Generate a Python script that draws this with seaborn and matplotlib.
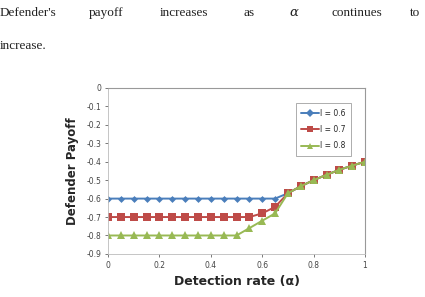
import matplotlib
matplotlib.use("Agg")
import matplotlib.pyplot as plt
import seaborn as sns
import pandas as pd

# Data
alpha = [0.0, 0.05, 0.1, 0.15, 0.2, 0.25, 0.3, 0.35, 0.4, 0.45, 0.5,
         0.55, 0.6, 0.65, 0.7, 0.75, 0.8, 0.85, 0.9, 0.95, 1.0]
l_06 = [-0.6, -0.6, -0.6, -0.6, -0.6, -0.6, -0.6, -0.6, -0.6, -0.6, -0.6,
        -0.6, -0.6, -0.6, -0.571, -0.533, -0.5, -0.471, -0.444, -0.421, -0.4]
l_07 = [-0.7, -0.7, -0.7, -0.7, -0.7, -0.7, -0.7, -0.7, -0.7, -0.7, -0.7,
        -0.7, -0.68, -0.645, -0.571, -0.533, -0.5, -0.471, -0.444, -0.421, -0.4]
l_08 = [-0.8, -0.8, -0.8, -0.8, -0.8, -0.8, -0.8, -0.8, -0.8, -0.8, -0.8,
        -0.76, -0.72, -0.68, -0.571, -0.533, -0.5, -0.471, -0.444, -0.421, -0.4]
series_names = ['l = 0.6', 'l = 0.7', 'l = 0.8']
y_ticks = [0, -0.1, -0.2, -0.3, -0.4, -0.5, -0.6, -0.7, -0.8, -0.9]
x_ticks = [0, 0.2, 0.4, 0.6, 0.8, 1]

df = pd.DataFrame({
    'alpha': alpha * 3,
    'payoff': l_06 + l_07 + l_08,
    'series': [series_names[0]] * len(alpha) + [series_names[1]] * len(alpha)
              + [series_names[2]] * len(alpha),
})

sns.set_style('white')
plt.rcParams['font.family'] = ['DejaVu Sans']

fig = plt.figure(figsize=(4.25, 2.97), dpi=100)
ax = fig.add_axes([0.254, 0.145, 0.605, 0.559])

palette = {series_names[0]: '#4a7ebb', series_names[1]: '#be4b48', series_names[2]: '#98b954'}
markers = {series_names[0]: 'D', series_names[1]: 's', series_names[2]: '^'}
sns.lineplot(data=df, x='alpha', y='payoff', hue='series', style='series',
             palette=palette, markers=markers, dashes=False, linewidth=1.4,
             markersize=4, markeredgewidth=0, ax=ax)
for line, ms in zip(ax.get_lines(), [3.5, 5.5, 5.5]):
    line.set_markersize(ms)

ax.set_xlim(0, 1)
ax.set_ylim(-0.9, 0)
ax.set_xticks(x_ticks)
ax.set_xticklabels([str(t) for t in x_ticks])
ax.set_yticks(y_ticks)
ax.set_yticklabels([str(t) for t in y_ticks])
ax.tick_params(axis='both', labelsize=5.5, colors='#444444', length=2, width=0.5,
               direction='out', left=True, bottom=True, pad=3)
for side in ['top', 'right']:
    ax.spines[side].set_color('#999999')
    ax.spines[side].set_linewidth(0.8)
for side in ['left', 'bottom']:
    ax.spines[side].set_color('#bbbbbb')
    ax.spines[side].set_linewidth(0.6)

ax.set_xlabel('Detection rate (α)', fontsize=9, fontweight='bold', labelpad=4)
ax.set_ylabel('Defender Payoff', fontsize=8.5, fontweight='bold', labelpad=5)

leg = ax.legend(loc='upper right', bbox_to_anchor=(0.96, 0.93), fontsize=5.5,
                frameon=True, fancybox=False, edgecolor='#888888',
                handlelength=2.4, labelspacing=0.95, borderpad=0.7,
                handletextpad=0.1)
leg.get_frame().set_linewidth(0.6)

# paragraph text above the chart
words = [("Defender's", 0.0), ('payoff', 0.21), ('increases', 0.375),
         ('as', 0.572), ('continues', 0.78), ('to', 0.965)]
for w, xpos in words:
    fig.text(xpos, 0.945, w, fontsize=9.5, family='Liberation Serif', color='#222222')
fig.text(0.68, 0.945, 'α', fontsize=9.5, family='DejaVu Serif', style='italic', color='#222222')
fig.text(0.0, 0.835, 'increase.', fontsize=9.5, family='Liberation Serif', color='#222222')

fig.savefig('out.png', dpi=100)
